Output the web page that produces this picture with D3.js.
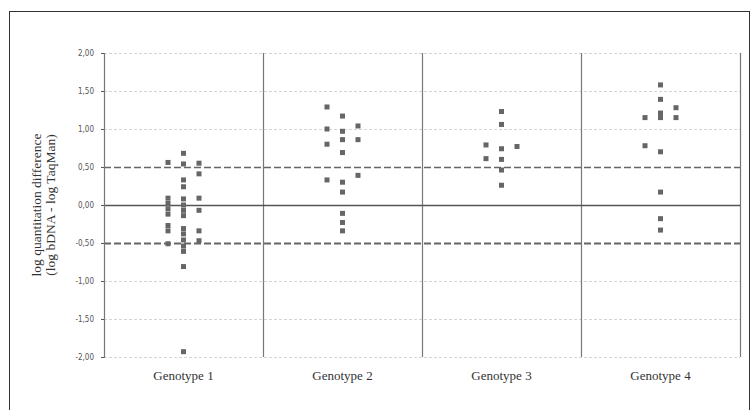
<!DOCTYPE html>
<html>
<head>
<meta charset="utf-8">
<script src="https://cdn.jsdelivr.net/npm/d3@7"></script>
<style>
  body { margin: 0; background: #fff; }
  svg { display: block; }
</style>
</head>
<body>
<div id="chart"></div>
<script>
// categories + y ticks
var genotypes = ["Genotype 1", "Genotype 2", "Genotype 3", "Genotype 4"];
var yTicks = [2, 1.5, 1, 0.5, 0, -0.5, -1, -1.5, -2];

// points per genotype, split in the three little columns (left / centre / right)
var g1Left  = [0.56, 0.09, 0.02, -0.05, -0.12, -0.27, -0.34, -0.51];
var g1Mid   = [0.68, 0.54, 0.33, 0.24, 0.08, 0.0, -0.07, -0.14, -0.31, -0.38, -0.46, -0.54, -0.61, -0.81, -1.93];
var g1Right = [0.55, 0.41, 0.09, -0.07, -0.34, -0.47];

var g2Left  = [1.29, 1.0, 0.8, 0.33];
var g2Mid   = [1.17, 0.97, 0.86, 0.69, 0.3, 0.17, -0.11, -0.23, -0.34];
var g2Right = [1.04, 0.86, 0.39];

var g3Left  = [0.79, 0.61];
var g3Mid   = [1.23, 1.06, 0.74, 0.6, 0.46, 0.26];
var g3Right = [0.77];

var g4Left  = [1.15, 0.78];
var g4Mid   = [1.58, 1.39, 1.21, 1.15, 0.7, 0.17, -0.18, -0.33];
var g4Right = [1.28, 1.15];

var cols = ["L", "C", "R"];
var groups = [
  [g1Left, g1Mid, g1Right],
  [g2Left, g2Mid, g2Right],
  [g3Left, g3Mid, g3Right],
  [g4Left, g4Mid, g4Right]
];

var points = [];
groups.forEach(function(g, gi) {
  g.forEach(function(arr, ci) {
    arr.forEach(function(v) {
      points.push({ geno: genotypes[gi], col: cols[ci], value: v });
    });
  });
});

var w = 752, h = 410;
var pLeft = 104, pRight = 740, pTop = 53, pBottom = 357;

var svg = d3.select("#chart").append("svg")
  .attr("width", w)
  .attr("height", h);

// outer frame
svg.append("rect")
  .attr("x", 9.5).attr("y", 11.5)
  .attr("width", 740).attr("height", 420)
  .attr("fill", "none")
  .attr("stroke", "#333")
  .attr("stroke-width", 1);

var x = d3.scaleBand().domain(genotypes).range([pLeft, pRight]);
var xc = d3.scalePoint().domain(cols).range([-15.5, 15.5]);
var y = d3.scaleLinear().domain([-2, 2]).range([pBottom, pTop]);

// light dotted gridlines
svg.append("g").selectAll("line")
  .data(yTicks.filter(function(t) { return Math.abs(t) !== 0.5 && t !== 0; }))
  .enter().append("line")
  .attr("x1", pLeft).attr("x2", pRight)
  .attr("y1", function(d) { return Math.round(y(d)) + 0.5; })
  .attr("y2", function(d) { return Math.round(y(d)) + 0.5; })
  .attr("stroke", "#d4d4d4")
  .attr("stroke-dasharray", "3,2");

// vertical dividers
svg.append("g").selectAll("line")
  .data(genotypes.slice(1).concat(["end"]))
  .enter().append("line")
  .attr("x1", function(d) { return d === "end" ? pRight + 0.5 : Math.round(x(d)) + 0.5; })
  .attr("x2", function(d) { return d === "end" ? pRight + 0.5 : Math.round(x(d)) + 0.5; })
  .attr("y1", pTop).attr("y2", pBottom)
  .attr("stroke", "#777")
  .attr("stroke-width", 1.2);

// zero line
svg.append("line")
  .attr("x1", pLeft).attr("x2", pRight)
  .attr("y1", Math.round(y(0)) + 0.5).attr("y2", Math.round(y(0)) + 0.5)
  .attr("stroke", "#555")
  .attr("stroke-width", 1.4);

// +/- 0.5 dashed limits
svg.append("g").selectAll("line")
  .data([0.5, -0.5])
  .enter().append("line")
  .attr("x1", pLeft).attr("x2", pRight)
  .attr("y1", function(d) { return Math.round(y(d)) + 0.5; })
  .attr("y2", function(d) { return Math.round(y(d)) + 0.5; })
  .attr("stroke", "#666")
  .attr("stroke-width", function(d) { return d < 0 ? 2 : 1.5; })
  .attr("stroke-dasharray", "7,3");

// y axis
var yAxis = d3.axisLeft(y)
  .tickValues(yTicks)
  .tickSize(3)
  .tickFormat(function(d) { return d3.format(".2f")(d).replace(".", ",").replace("−", "-"); });

var ga = svg.append("g")
  .attr("transform", "translate(" + pLeft + ",0)")
  .call(yAxis);
ga.select(".domain").attr("stroke", "#777").attr("stroke-width", 1.2);
ga.selectAll(".tick line").attr("stroke", "#555");
ga.selectAll(".tick text")
  .attr("x", -10)
  .style("font-family", "'Liberation Sans Narrow', 'DejaVu Sans Condensed', Arial, sans-serif")
  .style("font-size", "8px")
  .attr("fill", "#555");

// x category labels
svg.append("g").selectAll("text")
  .data(genotypes)
  .enter().append("text")
  .attr("x", function(d) { return x(d) + x.bandwidth() / 2; })
  .attr("y", 380)
  .attr("text-anchor", "middle")
  .style("font-family", "'Liberation Serif', 'Times New Roman', serif")
  .style("font-size", "13px")
  .attr("fill", "#333")
  .text(function(d) { return d; });

// y title
var title = svg.append("text")
  .attr("transform", "translate(41,205) rotate(-90)")
  .attr("text-anchor", "middle")
  .style("font-family", "'Liberation Serif', 'Times New Roman', serif")
  .style("font-size", "13.5px")
  .attr("fill", "#333");
title.append("tspan").attr("x", 0).attr("dy", 0).text("log quantitation difference");
title.append("tspan").attr("x", 0).attr("dy", 14).text("(log bDNA - log TaqMan)");

// points
svg.append("g").selectAll("rect")
  .data(points)
  .enter().append("rect")
  .attr("x", function(d) { return x(d.geno) + x.bandwidth() / 2 + xc(d.col) - 2.5; })
  .attr("y", function(d) { return y(d.value) - 2.5; })
  .attr("width", 5)
  .attr("height", 5)
  .attr("fill", "#666");
</script>
</body>
</html>
